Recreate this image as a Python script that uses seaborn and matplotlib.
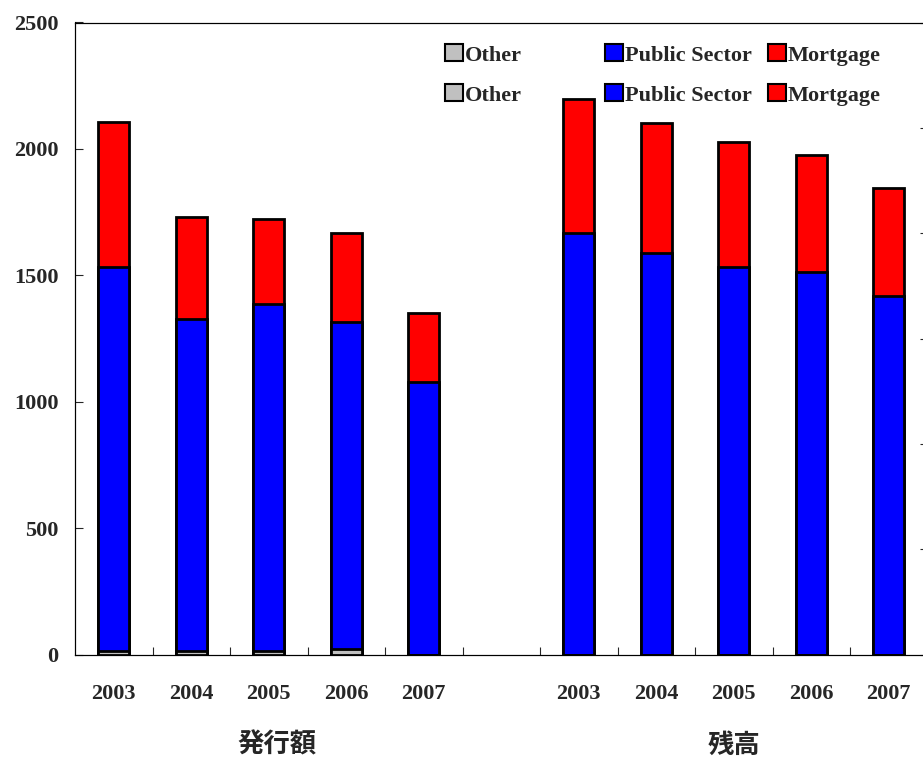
import matplotlib
matplotlib.use("Agg")
import matplotlib.pyplot as plt
import numpy as np
import pandas as pd
import seaborn as sns
from matplotlib.patches import Patch

# ---- data (issuance on the left axis, outstanding on the right axis) ----
years = ["2003", "2004", "2005", "2006", "2007"]
issue_other = [15, 15, 15, 23, 0]
issue_public = [1519, 1312, 1373, 1294, 1079]
issue_mortgage = [574, 405, 333, 349, 273]
out_other = [0, 0, 0, 0, 0]
out_public = [8000, 7629, 7363, 7257, 6812]
out_mortgage = [2553, 2457, 2373, 2221, 2051]
series = ["Other", "Public Sector", "Mortgage"]
colors = {"Other": "#C0C0C0", "Public Sector": "#0000FF", "Mortgage": "#FF0000"}
group_labels = ["発行額", "残高"]
left_ticks = [0, 500, 1000, 1500, 2000, 2500]
right_ticks = [0, 2000, 4000, 6000, 8000, 10000, 12000]

# ---- style ----
sns.set_style("white")
plt.rcParams["font.family"] = ["Liberation Serif", "DejaVu Serif"]
plt.rcParams["font.weight"] = "bold"
plt.rcParams["axes.linewidth"] = 0.8
plt.rcParams["axes.edgecolor"] = "black"

W, H = 923, 757
fig = plt.figure(figsize=(W / 100, H / 100), dpi=100)
# axes box runs slightly past the right edge of the figure
x0, x1, y_top, y_bot = 75, 927.5, 22.5, 654.5
ax = fig.add_axes([x0 / W, 1 - y_bot / H, (x1 - x0) / W, (y_bot - y_top) / H])
ax2 = ax.twinx()

issue_slots = ["I" + y for y in years]
out_slots = ["O" + y for y in years]
order = issue_slots + ["gap"] + out_slots


def stacked_frame(slots, other, public, mortgage):
    other = np.array(other)
    public = np.array(public)
    mortgage = np.array(mortgage)
    tops = {
        "Other": other,
        "Public Sector": other + public,
        "Mortgage": other + public + mortgage,
    }
    rows = []
    for s in series:
        for slot, v in zip(slots, tops[s]):
            rows.append({"slot": slot, "series": s, "top": v})
    return pd.DataFrame(rows)


df_issue = stacked_frame(issue_slots, issue_other, issue_public, issue_mortgage)
df_out = stacked_frame(out_slots, out_other, out_public, out_mortgage)

# cumulative bars drawn from the tallest segment down so each layer overlays the next
for axis, df in ((ax, df_issue), (ax2, df_out)):
    for s in ["Mortgage", "Public Sector", "Other"]:
        sub = df[df["series"] == s]
        sns.barplot(data=sub, x="slot", y="top", order=order, color=colors[s],
                    saturation=1, width=0.4, edgecolor="black", linewidth=2.0,
                    errorbar=None, ax=axis)

ax.set_ylim(0, 2500)
ax2.set_ylim(0, 12000)
ax.set_xlim(-0.5, 10.5)
ax2.set_xlim(-0.5, 10.5)
for a in (ax, ax2):
    a.set_xlabel("")
    a.set_ylabel("")
    for sp in a.spines.values():
        sp.set_visible(True)
        sp.set_color("black")
        sp.set_linewidth(0.8)

ax.set_yticks(left_ticks)
ax.set_yticklabels([str(t) for t in left_ticks], fontsize=16, fontweight="bold")
ax.tick_params(axis="y", direction="in", length=6, width=0.8, pad=12, left=True)

ax2.set_yticks(right_ticks)
ax2.tick_params(axis="y", direction="in", length=6, width=0.8, right=True,
                labelright=False)

label_pos = [0, 1, 2, 3, 4, 6, 7, 8, 9, 10]
ax.set_xticks(label_pos)
ax.set_xticklabels(years + years, fontsize=16, fontweight="bold")
ax.set_xticks(np.arange(0.5, 10, 1.0), minor=True)
ax.tick_params(axis="x", which="major", length=0, pad=21.5)
ax.tick_params(axis="x", which="minor", direction="in", length=6, width=0.8,
               bottom=True)

# group captions under each block of years
cjk = ["Noto Sans CJK JP", "DejaVu Sans"]
fig.text(277 / W, 1 - 745 / H, group_labels[0], family=cjk, fontsize=19,
         fontweight="bold", ha="center", va="center")
fig.text(734 / W, 1 - 745 / H, group_labels[1], family=cjk, fontsize=19,
         fontweight="bold", ha="center", va="center")

# one legend row per axis, entries spaced evenly
col_x = [445, 605, 768]
row_y = [55, 95]
for ry in row_y:
    for cx, s in zip(col_x, series):
        fig.legend(handles=[Patch(facecolor=colors[s], edgecolor="black", linewidth=1.5)],
                   labels=[s], loc="center left",
                   bbox_to_anchor=(cx / W, 1 - ry / H), frameon=False,
                   borderpad=0, borderaxespad=0, handlelength=0.8,
                   handleheight=0.8, handletextpad=0.1,
                   prop={"family": "Liberation Serif", "weight": "bold", "size": 16})

fig.savefig("out.png", dpi=100)
